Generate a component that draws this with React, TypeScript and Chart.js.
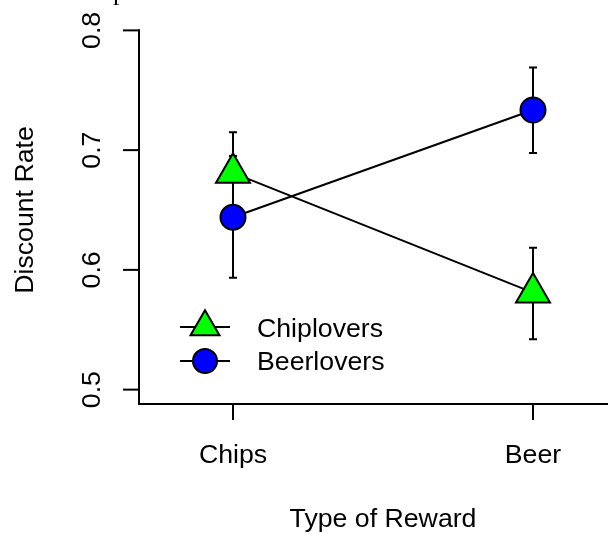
import React, { useEffect, useRef } from "react";
import { Chart, registerables } from "chart.js";

Chart.register(...registerables);

const categories = ["Chips", "Beer"];
const categoryPos = [1, 2];
const seriesNames = ["Chiplovers", "Beerlovers"];
const chiploverMeans = [0.681, 0.581];
const chiploverLow = [0.647, 0.542];
const chiploverHigh = [0.715, 0.6185];
const beerloverMeans = [0.644, 0.7335];
const beerloverLow = [0.5935, 0.6975];
const beerloverHigh = [0.695, 0.769];
const yTicks = [0.5, 0.6, 0.7, 0.8];
const yTickLabels = ["0.5", "0.6", "0.7", "0.8"];
const xTitle = "Type of Reward";
const yTitle = "Discount Rate";

const FONT = '"Liberation Sans", Arial, Helvetica, sans-serif';
const FS = 26.7;

const errLow = [chiploverLow, beerloverLow];
const errHigh = [chiploverHigh, beerloverHigh];

const drawTri = (ctx: CanvasRenderingContext2D, x: number, y: number, r: number, fill: string) => {
  ctx.beginPath();
  ctx.moveTo(x, y - r);
  ctx.lineTo(x + r * Math.sin(Math.PI / 3), y + r / 2);
  ctx.lineTo(x - r * Math.sin(Math.PI / 3), y + r / 2);
  ctx.closePath();
  ctx.fillStyle = fill;
  ctx.fill();
  ctx.lineWidth = 2;
  ctx.strokeStyle = "#000";
  ctx.stroke();
};
const drawCirc = (ctx: CanvasRenderingContext2D, x: number, y: number, r: number, fill: string) => {
  ctx.beginPath();
  ctx.arc(x, y, r, 0, Math.PI * 2);
  ctx.fillStyle = fill;
  ctx.fill();
  ctx.lineWidth = 2;
  ctx.strokeStyle = "#000";
  ctx.stroke();
};

const decorPlugin = {
  id: "decor",
  beforeDatasetsDraw(chart: any) {
    const ctx = chart.ctx as CanvasRenderingContext2D;
    const xs = chart.scales.x;
    const ys = chart.scales.y;
    ctx.save();
    ctx.strokeStyle = "#000";
    ctx.lineWidth = 2;
    for (let s = 0; s < 2; s++) {
      for (let i = 0; i < categoryPos.length; i++) {
        const px = xs.getPixelForValue(categoryPos[i]);
        const lo = ys.getPixelForValue(errLow[s][i]);
        const hi = ys.getPixelForValue(errHigh[s][i]);
        ctx.beginPath();
        ctx.moveTo(px, lo);
        ctx.lineTo(px, hi);
        ctx.moveTo(px - 4, lo);
        ctx.lineTo(px + 4, lo);
        ctx.moveTo(px - 4, hi);
        ctx.lineTo(px + 4, hi);
        ctx.stroke();
      }
    }
    ctx.restore();
  },
  afterDraw(chart: any) {
    const ctx = chart.ctx as CanvasRenderingContext2D;
    const xs = chart.scales.x;
    const ys = chart.scales.y;
    const area = chart.chartArea;
    ctx.save();
    ctx.strokeStyle = "#000";
    ctx.lineWidth = 2;
    ctx.lineCap = "square";
    const y08 = ys.getPixelForValue(yTicks[yTicks.length - 1]);
    ctx.beginPath();
    ctx.moveTo(area.left, y08);
    ctx.lineTo(area.left, area.bottom);
    ctx.lineTo(area.right + 2, area.bottom);
    ctx.stroke();
    ctx.lineCap = "butt";
    ctx.font = `${FS}px ${FONT}`;
    ctx.fillStyle = "#000";
    yTicks.forEach((v, i) => {
      const py = ys.getPixelForValue(v);
      ctx.beginPath();
      ctx.moveTo(area.left - 16, py);
      ctx.lineTo(area.left, py);
      ctx.stroke();
      ctx.save();
      ctx.translate(100, py);
      ctx.rotate(-Math.PI / 2);
      ctx.textAlign = "center";
      ctx.textBaseline = "alphabetic";
      ctx.fillText(yTickLabels[i], 0, 0);
      ctx.restore();
    });
    categoryPos.forEach((v, i) => {
      const px = xs.getPixelForValue(v);
      ctx.beginPath();
      ctx.moveTo(px, area.bottom);
      ctx.lineTo(px, area.bottom + 16);
      ctx.stroke();
      ctx.textAlign = "center";
      ctx.textBaseline = "alphabetic";
      ctx.fillText(categories[i], px, 463);
    });
    ctx.textAlign = "center";
    ctx.fillText(xTitle, 383, 527);
    ctx.save();
    ctx.translate(33, (area.top + area.bottom) / 2);
    ctx.rotate(-Math.PI / 2);
    ctx.fillText(yTitle, 0, 0);
    ctx.restore();
    const rows = [
      { y: 327, text: 337 },
      { y: 361, text: 370 },
    ];
    chart.data.datasets.forEach((ds: any, i: number) => {
      const r = rows[i];
      ctx.strokeStyle = "#000";
      ctx.lineWidth = 2;
      ctx.beginPath();
      ctx.moveTo(180, r.y);
      ctx.lineTo(230, r.y);
      ctx.stroke();
      if (ds.pointStyle === "triangle") drawTri(ctx, 205, r.y, 16.7, ds.pointBackgroundColor);
      else drawCirc(ctx, 205, r.y, 12, ds.pointBackgroundColor);
      ctx.fillStyle = "#000";
      ctx.textAlign = "left";
      ctx.fillText(ds.label, 257, r.text);
    });
    ctx.font = `26px "Liberation Serif", "Times New Roman", serif`;
    ctx.textAlign = "left";
    ctx.fillText("p", 113, 0);
    ctx.restore();
  },
};

export default function App() {
  const ref = useRef<HTMLCanvasElement | null>(null);
  useEffect(() => {
    if (!ref.current) return;
    const chart = new Chart(ref.current, {
      type: "line",
      data: {
        datasets: [
          {
            label: seriesNames[0],
            data: categoryPos.map((x, i) => ({ x, y: chiploverMeans[i] })),
            borderColor: "#000",
            borderWidth: 2,
            pointStyle: "triangle",
            pointRadius: 19.6,
            pointBackgroundColor: "#00FF00",
            pointBorderColor: "#000",
            pointBorderWidth: 2,
            fill: false,
            tension: 0,
          },
          {
            label: seriesNames[1],
            data: categoryPos.map((x, i) => ({ x, y: beerloverMeans[i] })),
            borderColor: "#000",
            borderWidth: 2,
            pointStyle: "circle",
            pointRadius: 12.5,
            pointBackgroundColor: "#0000FF",
            pointBorderColor: "#000",
            pointBorderWidth: 2,
            fill: false,
            tension: 0,
          },
        ],
      },
      options: {
        animation: false,
        responsive: false,
        maintainAspectRatio: false,
        layout: { autoPadding: false, padding: { left: 139, right: 0, top: 16, bottom: 130 } },
        plugins: { legend: { display: false }, tooltip: { enabled: false }, title: { display: false } },
        events: [],
        scales: {
          x: { type: "linear", display: false, min: 1 - 94 / 300, max: 2.25 },
          y: { type: "linear", display: false, min: 0.488, max: 0.812 },
        },
      },
      plugins: [decorPlugin],
    });
    return () => chart.destroy();
  }, []);
  return (
    <div style={{ position: "fixed", left: 0, top: 0, width: 608, height: 534, background: "#fff" }}>
      <canvas ref={ref} width={608} height={534} style={{ width: 608, height: 534, display: "block" }} />
    </div>
  );
}
